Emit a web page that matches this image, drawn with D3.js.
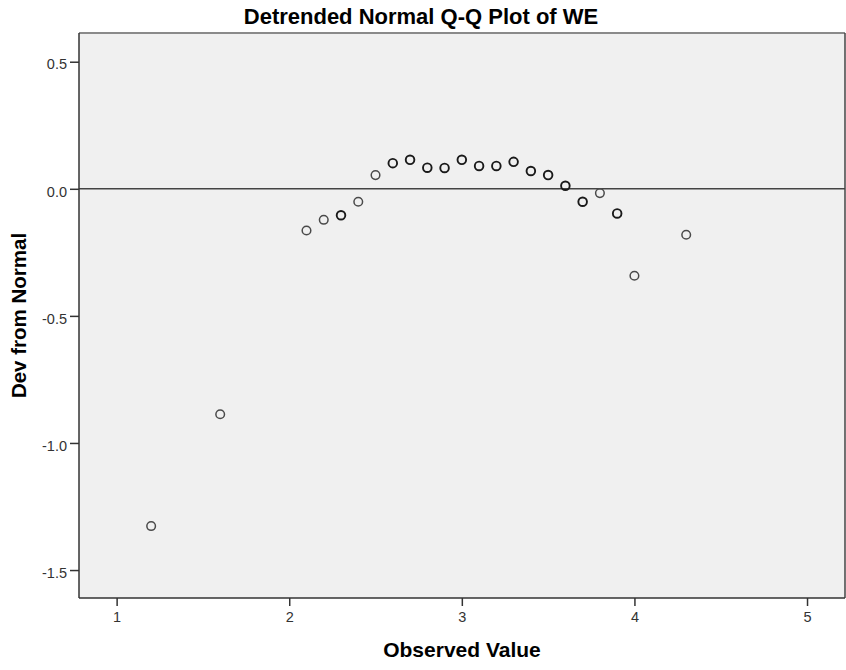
<!DOCTYPE html>
<html>
<head>
<meta charset="utf-8">
<script src="https://cdn.jsdelivr.net/npm/d3@7"></script>
<style>
body{margin:0;background:#fff;}
text{font-family:"Liberation Sans",Arial,sans-serif;}
</style>
</head>
<body>
<svg id="chart" width="846" height="670"></svg>
<script>
// observed values and deviation from normal
var observed=[1.2,1.6,2.1,2.2,2.3,2.4,2.5,2.6,2.7,2.8,2.9,3.0,3.1,3.2,3.3,3.4,3.5,3.6,3.7,3.8,3.9,4.0,4.3];
var devNormal=[-1.327,-0.887,-0.164,-0.122,-0.104,-0.051,0.054,0.101,0.114,0.083,0.082,0.114,0.090,0.090,0.106,0.070,0.054,0.012,-0.051,-0.017,-0.097,-0.342,-0.181];
// how many cases sit on each point (overlapping circles look darker)
var counts=[1,1,1,1,2,1,1,2,2,2,2,2,2,2,2,2,2,3,2,1,3,1,1];
var xTicks=[1,2,3,4,5];
var yTicks=[0.5,0.0,-0.5,-1.0,-1.5];

var margin={left:79,right:1,top:33,bottom:72};
var w=846-margin.left-margin.right;
var h=670-margin.top-margin.bottom;

var svg=d3.select("#chart");

var xScale=d3.scaleLinear()
             .domain([0.782,5.22])
             .range([margin.left,margin.left+w]);
var yScale=d3.scaleLinear()
             .domain([-1.61,0.613])
             .range([margin.top+h,margin.top]);

svg.append("rect")
   .attr("x",margin.left)
   .attr("y",margin.top)
   .attr("width",w)
   .attr("height",h)
   .attr("fill","#f0f0f0");

// zero reference line
svg.append("line")
   .attr("x1",margin.left)
   .attr("x2",margin.left+w)
   .attr("y1",yScale(0))
   .attr("y2",yScale(0))
   .attr("stroke","#444")
   .attr("stroke-width",1.5);

// frame
svg.append("line")
   .attr("x1",margin.left).attr("x2",margin.left+w)
   .attr("y1",margin.top).attr("y2",margin.top)
   .attr("stroke","#8a8a8a").attr("stroke-width",2);
svg.append("line")
   .attr("x1",margin.left+w).attr("x2",margin.left+w)
   .attr("y1",margin.top).attr("y2",margin.top+h)
   .attr("stroke","#444").attr("stroke-width",1.5);

var xAxis=d3.axisBottom(xScale)
            .tickValues(xTicks)
            .tickFormat(function(d){return String(d);})
            .tickSize(8)
            .tickPadding(6)
            .tickSizeOuter(0);
var yAxis=d3.axisLeft(yScale)
            .tickValues(yTicks)
            .tickFormat(function(d){return d.toFixed(1);})
            .tickSize(9)
            .tickPadding(3)
            .tickSizeOuter(0);

var gx=svg.append("g")
   .classed("xAxis",true)
   .attr("transform","translate(0,"+(margin.top+h)+")")
   .call(xAxis);
var gy=svg.append("g")
   .classed("yAxis",true)
   .attr("transform","translate("+margin.left+",0)")
   .call(yAxis);

[gx,gy].forEach(function(g){
  g.select(".domain").attr("stroke","#333").attr("stroke-width",1.5);
  g.selectAll(".tick line").attr("stroke","#333").attr("stroke-width",1.5);
  g.selectAll(".tick text").attr("fill","#333").style("font-size","14.5px");
});
gy.selectAll(".tick text").attr("dy","0.5em");
gy.select(".domain").attr("d","M0,"+(margin.top)+"V"+(margin.top+h));
gx.select(".domain").attr("d","M"+margin.left+",0H"+(margin.left+w));

svg.selectAll("circle.pt")
   .data(observed)
   .enter()
   .append("circle")
   .classed("pt",true)
   .attr("cx",function(d){return xScale(d);})
   .attr("cy",function(d,i){return yScale(devNormal[i]);})
   .attr("r",4.3)
   .attr("fill","none")
   .attr("stroke",function(d,i){return counts[i]>1?"#1a1a1a":"#4a4a4a";})
   .attr("stroke-width",function(d,i){return counts[i]>1?1.9:1.5;});

svg.append("text")
   .attr("x",421)
   .attr("y",24)
   .attr("text-anchor","middle")
   .style("font-size","22px")
   .style("font-weight","bold")
   .text("Detrended Normal Q-Q Plot of WE");

svg.append("text")
   .attr("x",margin.left+w/2)
   .attr("y",657)
   .attr("text-anchor","middle")
   .style("font-size","21px")
   .style("font-weight","bold")
   .text("Observed Value");

svg.append("text")
   .attr("transform","translate(26,"+(margin.top+h/2)+") rotate(-90)")
   .attr("text-anchor","middle")
   .style("font-size","20.5px")
   .style("font-weight","bold")
   .text("Dev from Normal");
</script>
</body>
</html>
